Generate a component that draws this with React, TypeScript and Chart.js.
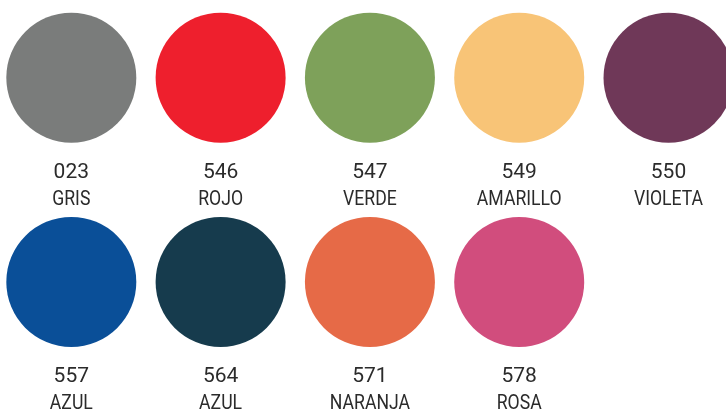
import React, { useEffect, useRef } from "react";
import { Chart, registerables } from "chart.js";

Chart.register(...registerables);

const codes = ["023", "546", "547", "549", "550", "557", "564", "571", "578"];
const names = ["GRIS", "ROJO", "VERDE", "AMARILLO", "VIOLETA", "AZUL", "AZUL", "NARANJA", "ROSA"];
const colors = ["#7a7c7b", "#ee1f2d", "#7ea15a", "#f8c477", "#6f3858", "#0a4f98", "#163b4d", "#e66a47", "#d14d7d"];
const perRow = 5;

const labelPlugin = {
  id: "swatchLabels",
  afterDatasetsDraw(chart: any) {
    const ctx = chart.ctx;
    const meta = chart.getDatasetMeta(0);
    ctx.save();
    ctx.fillStyle = "#2b2b2b";
    ctx.textAlign = "center";
    ctx.textBaseline = "alphabetic";
    meta.data.forEach((pt: any, i: number) => {
      ctx.font = "400 21px Roboto";
      ctx.fillText(codes[i], pt.x, pt.y + 100.5);
      ctx.save();
      ctx.translate(pt.x, pt.y + 127);
      ctx.scale(0.86, 1);
      ctx.font = "400 20.5px Roboto";
      ctx.fillText(names[i], 0, 0);
      ctx.restore();
    });
    ctx.restore();
  },
};

export default function App() {
  const ref = useRef<HTMLCanvasElement>(null);
  useEffect(() => {
    document.body.style.margin = "0";
    const data = codes.map((_, i) => ({ x: i % perRow, y: Math.floor(i / perRow) }));
    const chart = new Chart(ref.current!, {
      type: "scatter",
      data: {
        datasets: [
          {
            data,
            backgroundColor: colors,
            borderWidth: 0,
            pointRadius: 65,
            pointHoverRadius: 65,
            clip: false as any,
          },
        ],
      },
      options: {
        animation: false,
        responsive: false,
        events: [],
        layout: { padding: 0, autoPadding: false },
        plugins: { legend: { display: false }, tooltip: { enabled: false } },
        scales: {
          x: { type: "linear", display: false, min: -0.4776, max: 4.385 },
          y: { type: "linear", display: false, reverse: true, min: -0.38, max: 1.627 },
        },
      },
      plugins: [labelPlugin],
    });
    return () => chart.destroy();
  }, []);
  return (
    <div style={{ width: 726, height: 410, background: "#fff" }}>
      <canvas ref={ref} width={726} height={410} style={{ display: "block" }} />
    </div>
  );
}
